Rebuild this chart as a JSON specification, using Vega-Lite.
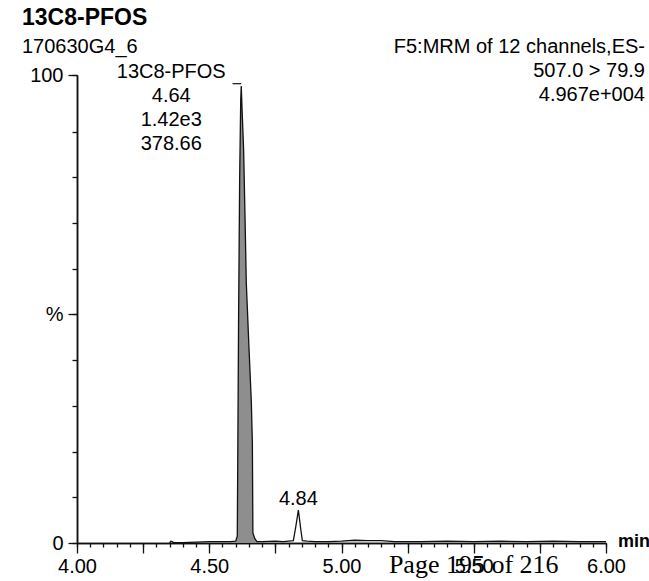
{
  "$schema": "https://vega.github.io/schema/vega-lite/v6.json",
  "width": 529,
  "height": 468,
  "autosize": {"type": "none"},
  "padding": {"left": 77, "top": 75, "right": 43, "bottom": 38},
  "background": "white",
  "config": {
    "view": {"stroke": null},
    "font": "Liberation Sans",
    "axis": {
      "domainColor": "#111",
      "domainWidth": 1.5,
      "tickColor": "#111",
      "tickWidth": 1.3,
      "labelFont": "Liberation Sans",
      "labelFontSize": 20,
      "labelColor": "#000",
      "grid": false,
      "title": null,
      "labelOverlap": false,
      "labelFlush": false
    }
  },
  "resolve": {"axis": {"x": "independent", "y": "independent"}},
  "datasets": {
    "trace": [
      {"rt": 4.350, "pct": 0.0},
      {"rt": 4.355, "pct": 0.4},
      {"rt": 4.360, "pct": 0.3},
      {"rt": 4.365, "pct": 0.1},
      {"rt": 4.400, "pct": 0.1},
      {"rt": 4.450, "pct": 0.2},
      {"rt": 4.500, "pct": 0.3},
      {"rt": 4.550, "pct": 0.3},
      {"rt": 4.580, "pct": 0.3},
      {"rt": 4.600, "pct": 0.4},
      {"rt": 4.606, "pct": 1.5},
      {"rt": 4.608, "pct": 20},
      {"rt": 4.611, "pct": 50},
      {"rt": 4.615, "pct": 80},
      {"rt": 4.619, "pct": 97},
      {"rt": 4.621, "pct": 100},
      {"rt": 4.624, "pct": 95},
      {"rt": 4.630, "pct": 86},
      {"rt": 4.635, "pct": 72},
      {"rt": 4.640, "pct": 57},
      {"rt": 4.650, "pct": 43},
      {"rt": 4.659, "pct": 31},
      {"rt": 4.663, "pct": 22},
      {"rt": 4.665, "pct": 2.2},
      {"rt": 4.672, "pct": 1.0},
      {"rt": 4.680, "pct": 0.3},
      {"rt": 4.700, "pct": 0.3},
      {"rt": 4.750, "pct": 0.4},
      {"rt": 4.780, "pct": 0.3},
      {"rt": 4.800, "pct": 0.4},
      {"rt": 4.818, "pct": 0.5},
      {"rt": 4.827, "pct": 3.5},
      {"rt": 4.837, "pct": 7.2},
      {"rt": 4.846, "pct": 3.0},
      {"rt": 4.852, "pct": 0.5},
      {"rt": 4.870, "pct": 0.4},
      {"rt": 4.900, "pct": 0.3},
      {"rt": 4.950, "pct": 0.3},
      {"rt": 5.000, "pct": 0.4},
      {"rt": 5.050, "pct": 0.6},
      {"rt": 5.100, "pct": 0.5},
      {"rt": 5.150, "pct": 0.5},
      {"rt": 5.200, "pct": 0.3},
      {"rt": 5.300, "pct": 0.3},
      {"rt": 5.400, "pct": 0.4},
      {"rt": 5.500, "pct": 0.3},
      {"rt": 5.600, "pct": 0.4},
      {"rt": 5.700, "pct": 0.3},
      {"rt": 5.800, "pct": 0.4},
      {"rt": 5.900, "pct": 0.3},
      {"rt": 6.000, "pct": 0.3}
    ]
  },
  "layer": [
    {
      "data": {"name": "trace"},
      "transform": [{"filter": "datum.rt >= 4.6 && datum.rt <= 4.685"}],
      "mark": {"type": "area", "color": "#8e8e8e", "opacity": 1},
      "encoding": {
        "x": {
          "field": "rt", "type": "quantitative",
          "scale": {"domain": [4.0, 6.0], "nice": false, "zero": false},
          "axis": {
            "orient": "bottom",
            "values": [4, 4.05, 4.1, 4.15, 4.2, 4.25, 4.3, 4.35, 4.4, 4.45, 4.5, 4.55, 4.6, 4.65, 4.7, 4.75, 4.8, 4.85, 4.9, 4.95, 5, 5.05, 5.1, 5.15, 5.2, 5.25, 5.3, 5.35, 5.4, 5.45, 5.5, 5.55, 5.6, 5.65, 5.7, 5.75, 5.8, 5.85, 5.9, 5.95, 6],
            "labels": false,
            "tickSize": 4
          }
        },
        "y": {
          "field": "pct", "type": "quantitative",
          "scale": {"domain": [0, 102.4], "nice": false, "zero": true},
          "axis": {
            "orient": "left",
            "values": [0, 10, 20, 30, 40, 50, 60, 70, 80, 90, 102.4],
            "labels": false,
            "tickSize": 5
          }
        }
      }
    },
    {
      "data": {"name": "trace"},
      "mark": {"type": "line", "color": "#111", "strokeWidth": 1.3},
      "encoding": {
        "x": {
          "field": "rt", "type": "quantitative",
          "axis": {
            "orient": "bottom",
            "values": [4, 4.25, 4.5, 4.75, 5, 5.25, 5.5, 5.75, 6],
            "labelExpr": "abs(datum.value*2 - round(datum.value*2)) < 0.001 ? format(datum.value, '.2f') : ''",
            "labelOverlap": false,
            "tickSize": 10,
            "labelPadding": 3
          }
        },
        "y": {
          "field": "pct", "type": "quantitative",
          "axis": {
            "orient": "left",
            "values": [0, 50, 102.4],
            "labelExpr": "datum.value == 0 ? '0' : datum.value == 50 ? '%' : '100'",
            "labelOverlap": false,
            "tickSize": 9,
            "labelPadding": 5,
            "labelBaseline": "middle"
          }
        }
      }
    },
    {
      "data": {"values": [{"rt": 4.588, "rt2": 4.621, "pct": 100.5}]},
      "mark": {"type": "rule", "color": "#111", "strokeWidth": 1.2},
      "encoding": {
        "x": {"field": "rt", "type": "quantitative", "axis": null},
        "x2": {"field": "rt2"},
        "y": {"field": "pct", "type": "quantitative", "axis": null}
      }
    },
    {
      "data": {"values": [{"rt": 4.621, "pct": 100, "lines": ["13C8-PFOS", "4.64", "1.42e3", "378.66"]}]},
      "mark": {"type": "text", "align": "center", "baseline": "alphabetic", "dx": -70, "dy": -8, "fontSize": 20, "lineHeight": 24, "font": "Liberation Sans", "color": "#000"},
      "encoding": {
        "x": {"field": "rt", "type": "quantitative", "axis": null},
        "y": {"field": "pct", "type": "quantitative", "axis": null},
        "text": {"field": "lines"}
      }
    },
    {
      "data": {"values": [{"rt": 4.837, "pct": 7.2, "label": "4.84"}]},
      "mark": {"type": "text", "align": "center", "baseline": "alphabetic", "dy": -5, "fontSize": 20, "font": "Liberation Sans", "color": "#000"},
      "encoding": {
        "x": {"field": "rt", "type": "quantitative", "axis": null},
        "y": {"field": "pct", "type": "quantitative", "axis": null},
        "text": {"field": "label"}
      }
    },
    {
      "data": {"values": [{"rt": 6.0, "pct": 0, "label": "min"}]},
      "mark": {"type": "text", "align": "left", "baseline": "alphabetic", "dx": 12, "dy": 4, "fontSize": 18, "fontWeight": "bold", "font": "Liberation Sans", "color": "#000"},
      "encoding": {
        "x": {"field": "rt", "type": "quantitative", "axis": null},
        "y": {"field": "pct", "type": "quantitative", "axis": null},
        "text": {"field": "label"}
      }
    },
    {
      "data": {"values": [{"rt": 6.0, "pct": 102.4, "lines": ["F5:MRM of 12 channels,ES-", "507.0 > 79.9", "4.967e+004"]}]},
      "mark": {"type": "text", "align": "right", "baseline": "alphabetic", "dx": 39, "dy": -22, "fontSize": 20, "lineHeight": 24, "font": "Liberation Sans", "color": "#000"},
      "encoding": {
        "x": {"field": "rt", "type": "quantitative", "axis": null},
        "y": {"field": "pct", "type": "quantitative", "axis": null},
        "text": {"field": "lines"}
      }
    },
    {
      "data": {"values": [{"rt": 4.0, "pct": 102.4, "label": "13C8-PFOS"}]},
      "mark": {"type": "text", "align": "left", "baseline": "alphabetic", "dx": -55, "dy": -50, "fontSize": 23, "fontWeight": "bold", "font": "Liberation Sans", "color": "#000"},
      "encoding": {
        "x": {"field": "rt", "type": "quantitative", "axis": null},
        "y": {"field": "pct", "type": "quantitative", "axis": null},
        "text": {"field": "label"}
      }
    },
    {
      "data": {"values": [{"rt": 4.0, "pct": 102.4, "label": "170630G4_6"}]},
      "mark": {"type": "text", "align": "left", "baseline": "alphabetic", "dx": -55, "dy": -22, "fontSize": 20, "font": "Liberation Sans", "color": "#000"},
      "encoding": {
        "x": {"field": "rt", "type": "quantitative", "axis": null},
        "y": {"field": "pct", "type": "quantitative", "axis": null},
        "text": {"field": "label"}
      }
    },
    {
      "data": {"values": [{"rt": 5.5, "pct": 0, "label": "Page 195 of 216"}]},
      "mark": {"type": "text", "align": "center", "baseline": "alphabetic", "dy": 30, "fontSize": 26, "font": "Liberation Serif", "color": "#000"},
      "encoding": {
        "x": {"field": "rt", "type": "quantitative", "axis": null},
        "y": {"field": "pct", "type": "quantitative", "axis": null},
        "text": {"field": "label"}
      }
    }
  ]
}
